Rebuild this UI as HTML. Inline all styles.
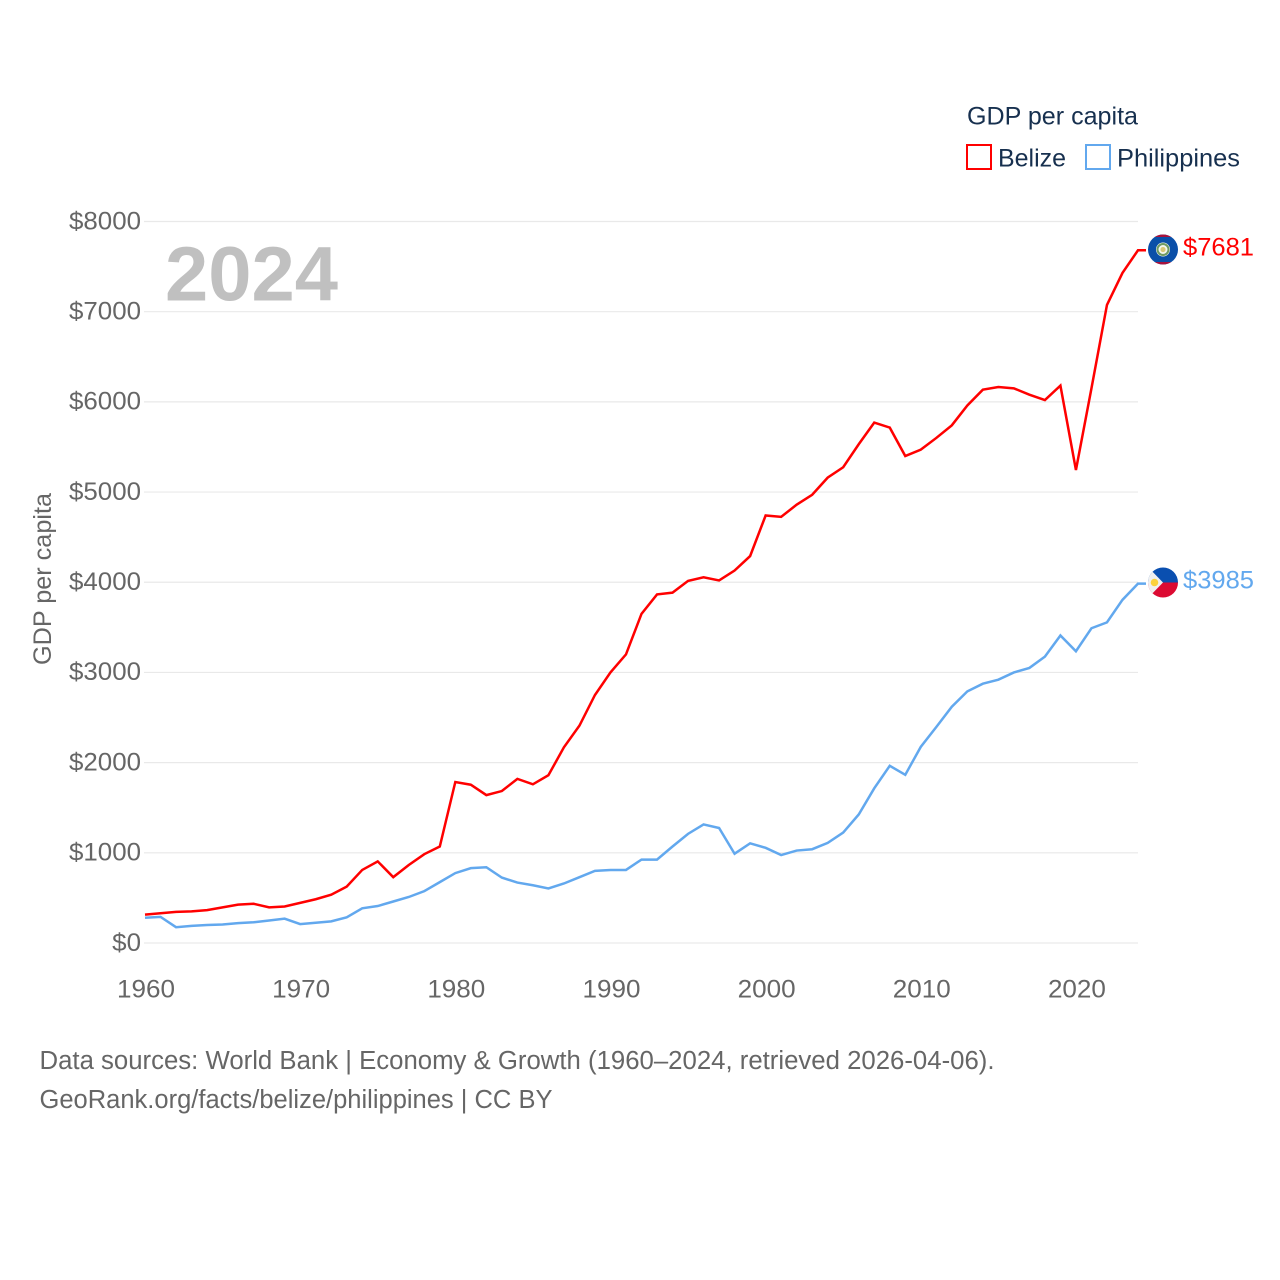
<!DOCTYPE html>
<html lang="en">
<head>
<meta charset="utf-8">
<title>GDP per capita: Belize and Philippines</title>
<style>
html,body{margin:0;padding:0;background:#fff;}
svg{display:block;font-family:"Liberation Sans",sans-serif;}
</style>
</head>
<body>
<svg id="chart" xmlns="http://www.w3.org/2000/svg" width="1280" height="1280" viewBox="0 0 1280 1280">
  <defs>
    <clipPath id="clip-bz"><circle cx="1163" cy="249.5" r="15"/></clipPath>
    <clipPath id="clip-ph"><circle cx="1163" cy="582.5" r="15"/></clipPath>
  </defs>
  <g id="grid"></g>
  <g id="yticks"></g>
  <g id="xticks"></g>
  <text x="165" y="300.5" font-size="77" font-weight="700" fill="#c0c0c0" textLength="173" lengthAdjust="spacingAndGlyphs">2024</text>
  <text transform="translate(51,665) rotate(-90)" font-size="25" fill="#666666" textLength="172" lengthAdjust="spacingAndGlyphs">GDP per capita</text>
  <g id="series"></g>

  <g clip-path="url(#clip-bz)">
    <rect x="1148" y="234" width="30" height="31" fill="#0a4fa8"/>
    <rect x="1148" y="234" width="30" height="3" fill="#a8123c"/>
    <rect x="1148" y="262" width="30" height="3" fill="#a8123c"/>
    <circle cx="1163" cy="249.5" r="7" fill="#f4f6ee"/>
    <circle cx="1163" cy="249.5" r="5.5" fill="none" stroke="#6f9a62" stroke-width="2"/>
    <circle cx="1163" cy="249.5" r="2.6" fill="#d9c878"/>
  </g>
  <g clip-path="url(#clip-ph)">
    <rect x="1148" y="567" width="30" height="16" fill="#0a4fb0"/>
    <rect x="1148" y="582.5" width="30" height="16" fill="#dc0a32"/>
    <polygon points="1146,565 1163,582.5 1146,600" fill="#f0f0f0"/>
    <circle cx="1154.5" cy="582.5" r="3.8" fill="#fcd23c"/>
  </g>

  <text x="1183" y="255.5" font-size="25" fill="#ff0000" textLength="71" lengthAdjust="spacingAndGlyphs">$7681</text>
  <text x="1183" y="588.5" font-size="25" fill="#62a8ee" textLength="71" lengthAdjust="spacingAndGlyphs">$3985</text>

  <g>
    <text x="967" y="124.5" font-size="25" fill="#17304f" textLength="171" lengthAdjust="spacingAndGlyphs">GDP per capita</text>
    <rect x="967" y="145" width="24" height="24" fill="none" stroke="#ff0000" stroke-width="2"/>
    <text x="998" y="166.5" font-size="25" fill="#17304f" textLength="68" lengthAdjust="spacingAndGlyphs">Belize</text>
    <rect x="1086" y="145" width="24" height="24" fill="none" stroke="#62a8ee" stroke-width="2"/>
    <text x="1117" y="166.5" font-size="25" fill="#17304f" textLength="123" lengthAdjust="spacingAndGlyphs">Philippines</text>
  </g>

  <text x="39.5" y="1069" font-size="25.5" fill="#666666" textLength="955" lengthAdjust="spacingAndGlyphs">Data sources: World Bank | Economy &amp; Growth (1960–2024, retrieved 2026-04-06).</text>
  <text x="39.5" y="1108" font-size="25.5" fill="#666666" textLength="513" lengthAdjust="spacingAndGlyphs">GeoRank.org/facts/belize/philippines | CC BY</text>
</svg>
<script>
const years = [1960,1961,1962,1963,1964,1965,1966,1967,1968,1969,1970,1971,1972,1973,1974,1975,1976,1977,1978,1979,1980,1981,1982,1983,1984,1985,1986,1987,1988,1989,1990,1991,1992,1993,1994,1995,1996,1997,1998,1999,2000,2001,2002,2003,2004,2005,2006,2007,2008,2009,2010,2011,2012,2013,2014,2015,2016,2017,2018,2019,2020,2021,2022,2023,2024];
const belize = [315,330,345,350,365,395,425,435,395,405,445,485,535,625,810,905,730,865,985,1070,1785,1755,1640,1685,1820,1760,1860,2170,2410,2750,3000,3200,3650,3865,3885,4015,4055,4020,4130,4290,4740,4725,4860,4970,5160,5275,5530,5770,5715,5400,5470,5600,5740,5960,6135,6165,6150,6080,6020,6180,5245,6150,7075,7430,7681];
const philippines = [280,290,175,190,200,205,220,230,250,270,210,225,240,285,385,410,460,510,575,675,775,830,840,725,670,640,605,660,730,800,810,810,925,925,1070,1210,1315,1275,990,1105,1055,975,1025,1040,1110,1225,1425,1715,1965,1865,2175,2395,2620,2790,2875,2920,3000,3050,3175,3410,3235,3490,3555,3805,3985];
const yTickValues = [0,1000,2000,3000,4000,5000,6000,7000,8000];
const yTickLabels = ["$0","$1000","$2000","$3000","$4000","$5000","$6000","$7000","$8000"];
const xTickValues = [1960,1970,1980,1990,2000,2010,2020];
const xTickLabels = ["1960","1970","1980","1990","2000","2010","2020"];

const plotX0 = 145, plotX1 = 1138, plotY0 = 943, plotY1 = 221.5;
const xDomainMin = 1960, xDomainMax = 2024, yDomainMax = 8000;
function xScale(year){ return plotX0 + (year - xDomainMin) / (xDomainMax - xDomainMin) * (plotX1 - plotX0); }
function yScale(value){ return plotY0 - value / yDomainMax * (plotY0 - plotY1); }

const NS = "http://www.w3.org/2000/svg";
function make(tag, attrs, parent, text){
  const el = document.createElementNS(NS, tag);
  for (const k in attrs) el.setAttribute(k, attrs[k]);
  if (text !== undefined) el.textContent = text;
  parent.appendChild(el);
  return el;
}

const gridG = document.getElementById("grid");
const yG = document.getElementById("yticks");
const xG = document.getElementById("xticks");
const seriesG = document.getElementById("series");

yTickValues.forEach(function(v, i){
  const y = yScale(v);
  const line = make("line", {x1: plotX0 - 1, x2: plotX1, y1: y, y2: y, stroke: "#e9e9e9", "stroke-width": 1.2}, gridG);
  
  
  const label = yTickLabels[i];
  const t = make("text", {x: 141, y: y + 7.8, "font-size": 25, fill: "#666666", "text-anchor": "end", textLength: label.length * 14.4, lengthAdjust: "spacingAndGlyphs"}, yG, label);
  
  
});

xTickValues.forEach(function(v, i){
  const t = make("text", {x: xScale(v) + 1, y: 997.5, "font-size": 25, fill: "#666666", "text-anchor": "middle", textLength: 58, lengthAdjust: "spacingAndGlyphs"}, xG, xTickLabels[i]);
  
  
});

function drawSeries(values, color){
  const d = values.map(function(v, i){ return (i ? "L" : "M") + xScale(years[i]).toFixed(2) + " " + yScale(v).toFixed(2); }).join(" ");
  return make("path", {d: d + " H" + (plotX1 + 8), fill: "none", stroke: color, "stroke-width": 2.5, "stroke-linejoin": "miter"}, seriesG);
}
const philippinesLine = drawSeries(philippines, "#62a8ee");


const belizeLine = drawSeries(belize, "#ff0000");


</script>
</body>
</html>
